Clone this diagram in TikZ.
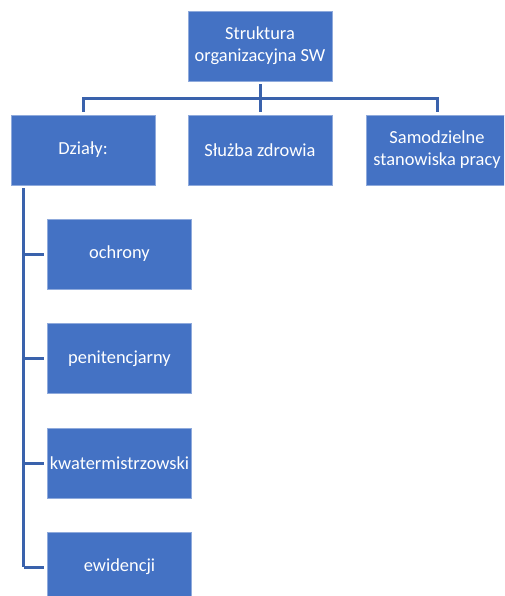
\documentclass[tikz,border=0pt]{standalone}
\usepackage{fontspec}
\setmainfont{Carlito}
\definecolor{boxblue}{HTML}{4472C4}
\definecolor{lineblue}{HTML}{3A62AC}
\definecolor{edgeblue}{HTML}{8FAADC}
\begin{document}
\begin{tikzpicture}[x=1pt,y=-1pt,
  orgbox/.style={rectangle, fill=boxblue, draw=edgeblue, line width=0.6pt,
    minimum width=144pt, minimum height=70pt, inner sep=1pt,
    text=white, align=center, font=\fontsize{18.4}{22}\selectfont},
  conn/.style={draw=lineblue, line width=3pt}]
\useasboundingbox (0,0) rectangle (504,596);
\clip (0,0) rectangle (504,596);
\node[orgbox] (top) at (260,46) {Struktura\\organizacyjna SW};
\node[orgbox] (dz) at (83,150) {Działy:};
\node[orgbox] (sz) at (260,150) {Służba zdrowia};
\node[orgbox, minimum width=142pt] (sam) at (437,150) {Samodzielne\\stanowiska pracy};
\node[orgbox] (och) at (119.5,254) {ochrony};
\node[orgbox] (pen) at (119.5,358.5) {penitencjarny};
\node[orgbox] (kwa) at (119.5,463) {kwatermistrzowski};
\node[orgbox] (ewi) at (119.5,567) {ewidencji};
\coordinate (bus) at (260,99);
\coordinate (spine) at (23.5,185);
% top level
\draw[conn, shorten <=3pt, shorten >=3pt] (top.south) -- (sz.north);
\draw[conn, shorten <=3pt, shorten >=3pt] (dz.north) |- (bus) -| (sam.north);
% departments
\draw[conn, shorten <=3pt] (spine) -- (spine |- ewi.west);
\foreach \n in {och,pen,kwa,ewi}
  \draw[conn, shorten >=3pt] (spine |- \n.west) -- (\n.west);
\end{tikzpicture}
\end{document}
